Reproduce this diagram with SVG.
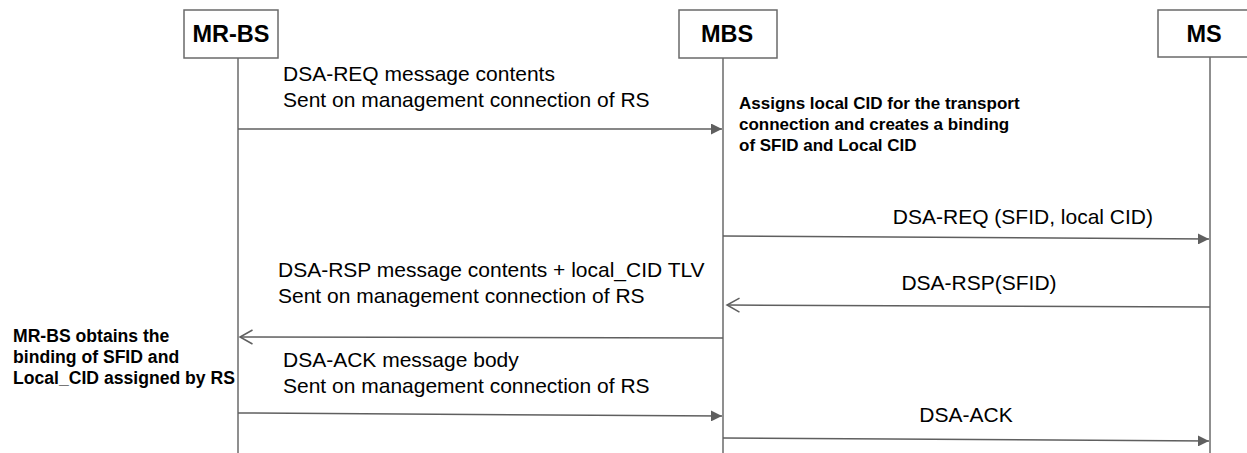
<svg xmlns="http://www.w3.org/2000/svg" width="1247" height="453" viewBox="0 0 1247 453">
<style>
.box{fill:#fff;stroke:#6a6a6a;stroke-width:1.5}
.life{stroke:#6a6a6a;stroke-width:1.5;fill:none}
.msg{stroke:#5f5f5f;stroke-width:1.5;fill:none}
.hd{font-family:"Liberation Sans",Arial,sans-serif;font-weight:bold;font-size:23.5px;fill:#000}
.t{font-family:"Liberation Sans",Arial,sans-serif;font-size:21px;fill:#000}
.b{font-family:"Liberation Sans",Arial,sans-serif;font-weight:bold;font-size:17px;fill:#000}
.bl{font-size:17.6px}
</style>
<defs>
<marker id="fill" markerWidth="11" markerHeight="11" refX="11" refY="5.5" orient="auto" markerUnits="userSpaceOnUse">
<path d="M0,0 L11,5.5 L0,11 Z" fill="#5f5f5f"/>
</marker>
<marker id="open" markerWidth="15" markerHeight="16" refX="13.5" refY="8" orient="auto" markerUnits="userSpaceOnUse">
<path d="M1,1 L13.5,8 L1,15" fill="none" stroke="#5f5f5f" stroke-width="1.5"/>
</marker>
</defs>
<g id="MR-BS">
<rect class="box" x="184" y="10" width="94" height="48"/>
<text class="hd" x="231" y="42" text-anchor="middle">MR-BS</text>
<line class="life" x1="238" y1="58" x2="238" y2="453"/>
</g>
<g id="MBS">
<rect class="box" x="679" y="10" width="98" height="48"/>
<text class="hd" x="727" y="42" text-anchor="middle">MBS</text>
<line class="life" x1="723" y1="58" x2="723" y2="453"/>
</g>
<g id="MS">
<rect class="box" x="1158" y="10" width="100" height="47"/>
<text class="hd" x="1204" y="42" text-anchor="middle">MS</text>
<line class="life" x1="1210" y1="57" x2="1210" y2="453"/>
</g>
<g id="connectors">
<line class="msg" x1="238" y1="129" x2="722" y2="129" marker-end="url(#fill)"/>
<line class="msg" x1="723" y1="236" x2="1209" y2="239" marker-end="url(#fill)"/>
<line class="msg" x1="1210" y1="307" x2="727" y2="305" marker-end="url(#open)"/>
<line class="msg" x1="723" y1="338" x2="240" y2="337" marker-end="url(#open)"/>
<line class="msg" x1="238" y1="413" x2="722" y2="416" marker-end="url(#fill)"/>
<line class="msg" x1="723" y1="438" x2="1209" y2="441" marker-end="url(#fill)"/>
</g>
<g id="labels">
<text class="t" x="283" y="81">DSA-REQ message contents</text>
<text class="t" x="283" y="107">Sent on management connection of RS</text>
<text class="b" x="739" y="109">Assigns local CID for the transport</text>
<text class="b" x="739" y="130">connection and  creates a  binding</text>
<text class="b" x="739" y="151">of SFID and Local CID</text>
<text class="t" x="1153" y="224" text-anchor="end">DSA-REQ (SFID, local CID)</text>
<text class="t" x="278" y="277">DSA-RSP message contents + local_CID TLV</text>
<text class="t" x="278" y="303">Sent on management connection of RS</text>
<text class="t" x="979" y="290" text-anchor="middle">DSA-RSP(SFID)</text>
<text class="b bl" x="13" y="342">MR-BS obtains the</text>
<text class="b bl" x="13" y="363">binding of SFID and</text>
<text class="b bl" x="13" y="384">Local_CID assigned by RS</text>
<text class="t" x="283" y="367">DSA-ACK message body</text>
<text class="t" x="283" y="393">Sent on management connection  of RS</text>
<text class="t" x="966" y="422" text-anchor="middle">DSA-ACK</text>
</g>
</svg>
